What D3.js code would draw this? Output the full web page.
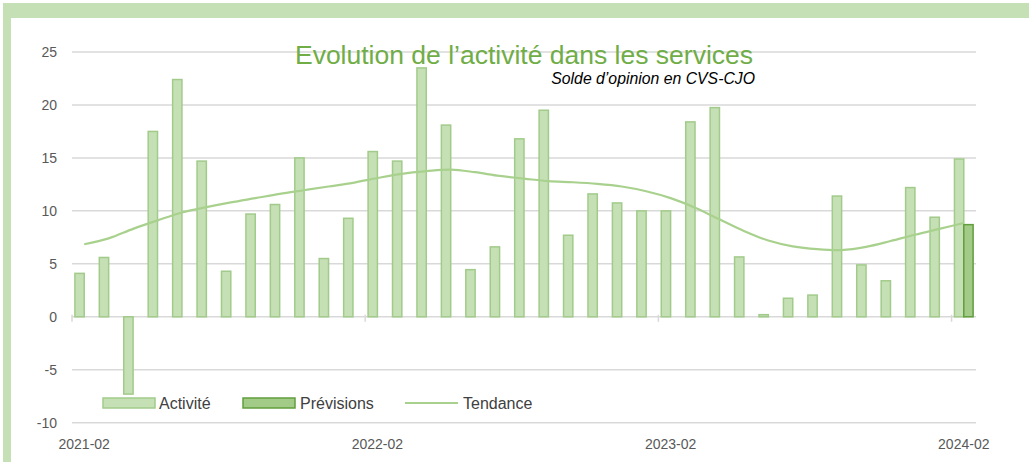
<!DOCTYPE html>
<html>
<head>
<meta charset="utf-8">
<script src="https://cdn.jsdelivr.net/npm/d3@7"></script>
<style>
  html, body { margin: 0; padding: 0; background: #fff; }
  svg { display: block; font-family: "Liberation Sans", Arial, sans-serif; }
</style>
</head>
<body>
<svg id="chart" width="1029" height="462"></svg>
<script>
// ── Data ────────────────────────────────────────────────────────────────
const months = d3.timeMonths(new Date(2021, 1, 1), new Date(2024, 2, 1))
  .map(d3.timeFormat('%Y-%m'));               // 2021-02 … 2024-02
const tickLabels = ['2021-02', '2022-02', '2023-02', '2024-02'];
const yTicks = [-10, -5, 0, 5, 10, 15, 20, 25];
const series = ['Activité', 'Prévisions'];

const activite = [4.1, 5.6, -7.3, 17.5, 22.4, 14.7, 4.3, 9.7, 10.6, 15.0, 5.5, 9.3,
  15.6, 14.7, 23.5, 18.1, 4.45, 6.6, 16.8, 19.5, 7.7, 11.6, 10.75, 10.0,
  10.0, 18.4, 19.75, 5.65, 0.2, 1.75, 2.05, 11.4, 4.9, 3.4, 12.2, 9.4, 14.9];
const previsions = [null, null, null, null, null, null, null, null, null, null, null, null,
  null, null, null, null, null, null, null, null, null, null, null, null,
  null, null, null, null, null, null, null, null, null, null, null, null, 8.7];
const tendance = [6.85, 7.4, 8.3, 9.1, 9.85, 10.35, 10.8, 11.2, 11.6, 11.95, 12.3, 12.65,
  13.1, 13.5, 13.75, 13.9, 13.65, 13.3, 13.05, 12.8, 12.7, 12.55, 12.3, 11.85,
  11.2, 10.3, 9.2, 8.1, 7.2, 6.65, 6.38, 6.3, 6.6, 7.15, 7.75, 8.3, 8.85];

// ── Setup ───────────────────────────────────────────────────────────────
const svg = d3.select('#chart');
const green = '#70ad47';
const lightFill = '#c5e0b4', lightStroke = '#a2cb8b';
const darkFill = '#a1cb87', darkStroke = '#629e3d';

// frame (light green band on top and left)
svg.append('rect').attr('x', 3).attr('y', 3).attr('width', 1026).attr('height', 15).attr('fill', '#c5e0b4');
svg.append('rect').attr('x', 3).attr('y', 3).attr('width', 8).attr('height', 459).attr('fill', '#c5e0b4');

const x = d3.scaleBand().domain(months).range([72, 976]).paddingInner(0).paddingOuter(0);
const xSub = d3.scaleBand().domain(series).range([0, x.bandwidth()]).paddingInner(0).paddingOuter(0.31);
const y = d3.scaleLinear().domain([-10, 25]).range([422.7, 52]);

// ── Grid + y labels ─────────────────────────────────────────────────────
svg.append('g').selectAll('line')
  .data(yTicks)
  .join('line')
    .attr('x1', 72).attr('x2', 976)
    .attr('y1', d => y(d)).attr('y2', d => y(d))
    .attr('stroke', '#d9d9d9').attr('stroke-width', 1.5);

svg.append('g').selectAll('text')
  .data(yTicks)
  .join('text')
    .attr('x', 57).attr('y', d => y(d) + 5)
    .attr('text-anchor', 'end')
    .attr('font-size', 14).attr('fill', '#595959')
    .text(d => d);

// category axis ticks on zero line
const tickIdx = tickLabels.map(t => months.indexOf(t));
svg.append('g').selectAll('line')
  .data(tickIdx)
  .join('line')
    .attr('x1', i => x(months[i])).attr('x2', i => x(months[i]))
    .attr('y1', y(0) - 2).attr('y2', y(0) + 5)
    .attr('stroke', '#d9d9d9').attr('stroke-width', 1.5);

svg.append('g').selectAll('text')
  .data(tickLabels)
  .join('text')
    .attr('x', d => x(d) + x.bandwidth() / 2)
    .attr('y', 449)
    .attr('text-anchor', 'middle')
    .attr('font-size', 14).attr('fill', '#595959')
    .text(d => d);

// ── Bars ────────────────────────────────────────────────────────────────
function drawBars(values, name, fill, stroke) {
  const data = values.map((v, i) => ({ m: months[i], v })).filter(d => d.v != null);
  svg.append('g').selectAll('rect')
    .data(data)
    .join('rect')
      .attr('x', d => x(d.m) + xSub(name))
      .attr('width', xSub.bandwidth())
      .attr('y', d => y(Math.max(0, d.v)))
      .attr('height', d => Math.abs(y(d.v) - y(0)))
      .attr('fill', fill)
      .attr('stroke', stroke).attr('stroke-width', 1.5);
}
drawBars(activite, 'Activité', lightFill, lightStroke);
drawBars(previsions, 'Prévisions', darkFill, darkStroke);

// ── Trend line ──────────────────────────────────────────────────────────
const line = d3.line()
  .x((d, i) => x(months[i]) + x.bandwidth() / 2)
  .y(d => y(d))
  .curve(d3.curveCatmullRom.alpha(0.5));

svg.append('path')
  .datum(tendance)
  .attr('d', line)
  .attr('fill', 'none')
  .attr('stroke', '#a9d18e').attr('stroke-width', 2.2);

// ── Legend ──────────────────────────────────────────────────────────────
const legend = svg.append('g').attr('font-size', 16).attr('fill', '#404040');
legend.append('rect').attr('x', 103).attr('y', 398).attr('width', 52).attr('height', 10)
  .attr('fill', lightFill).attr('stroke', lightStroke).attr('stroke-width', 1.5);
legend.append('text').attr('x', 159).attr('y', 409).text('Activité');
legend.append('rect').attr('x', 243).attr('y', 398).attr('width', 52).attr('height', 10)
  .attr('fill', darkFill).attr('stroke', darkStroke).attr('stroke-width', 1.5);
legend.append('text').attr('x', 300).attr('y', 409).text('Prévisions');
legend.append('line').attr('x1', 405).attr('x2', 458).attr('y1', 403).attr('y2', 403)
  .attr('stroke', '#a9d18e').attr('stroke-width', 2.2);
legend.append('text').attr('x', 463).attr('y', 409).text('Tendance');

// ── Titles ──────────────────────────────────────────────────────────────
svg.append('text')
  .attr('x', 524).attr('y', 64)
  .attr('text-anchor', 'middle')
  .attr('font-size', 26.5).attr('fill', green)
  .text('Evolution de l’activité dans les services');

svg.append('text')
  .attr('x', 755).attr('y', 84)
  .attr('text-anchor', 'end')
  .attr('font-size', 15.8).attr('font-style', 'italic').attr('fill', '#000')
  .text('Solde d’opinion en CVS-CJO');
</script>
</body>
</html>
